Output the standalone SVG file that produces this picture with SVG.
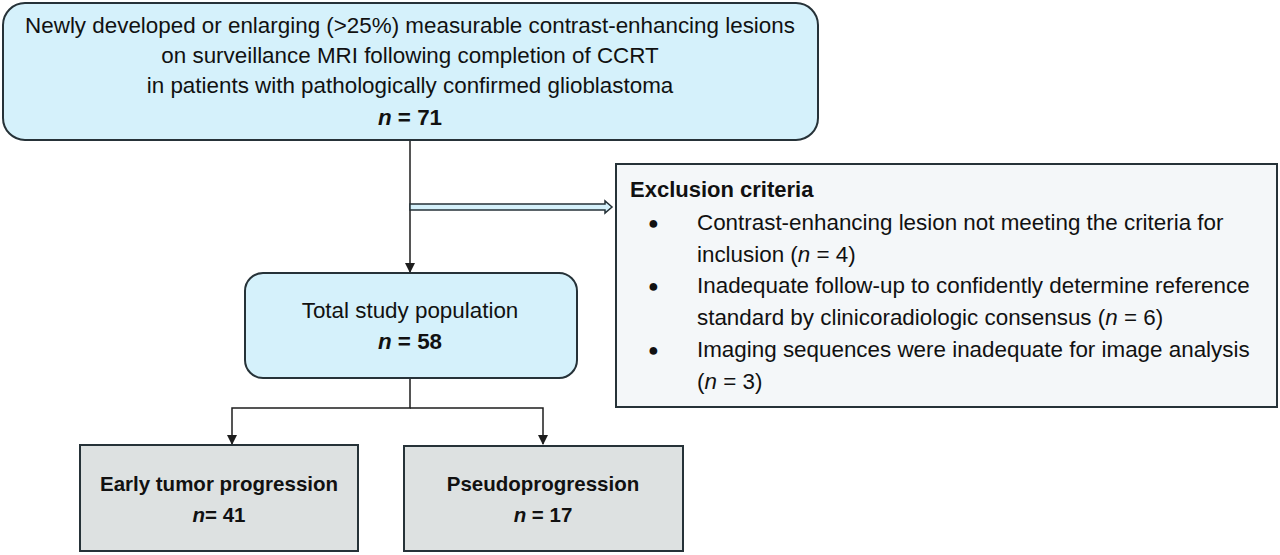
<svg xmlns="http://www.w3.org/2000/svg" width="1280" height="555" viewBox="0 0 1280 555">
<defs>
<style>
text{font-family:"Liberation Sans",Arial,sans-serif;fill:#111;}
.t{font-size:22.4px;text-anchor:middle;}
.b{font-weight:bold;}
.e{font-size:22.4px;}
.h{font-size:22px;font-weight:bold;}
.s{font-size:20.5px;text-anchor:middle;font-weight:bold;}
.dot{font-size:18px;}
.blue{fill:#d5f1fb;stroke:#263238;stroke-width:2;}
.grey{fill:#dde1e1;stroke:#263238;stroke-width:2;}
.excl{fill:#f4f7f9;stroke:#263238;stroke-width:2;}
.ln{fill:none;stroke:#1e1e1e;stroke-width:1.5;}
</style>
<marker id="ah" markerWidth="10" markerHeight="10" refX="9" refY="5" orient="auto" markerUnits="userSpaceOnUse">
<path d="M0,0 L10,5 L0,10 z" fill="#1e1e1e"/>
</marker>
</defs>
<rect width="1280" height="555" fill="#fff"/>
<g id="connectors">
<line class="ln" x1="410" y1="141" x2="410" y2="272" marker-end="url(#ah)"/>
<polygon points="410,204 605,204 605,201 612,207 605,213 605,210 410,210" fill="#d5f1fb" stroke="#263238" stroke-width="1.5"/>
<polyline class="ln" points="410,379 410,408 232,408 232,444" marker-end="url(#ah)"/>
<polyline class="ln" points="410,408 543,408 543,444" marker-end="url(#ah)"/>
</g>
<g id="top">
<rect class="blue" x="3" y="3" width="815" height="137" rx="22"/>
<text class="t" x="410" y="33">Newly developed or enlarging (&gt;25%) measurable contrast-enhancing lesions</text>
<text class="t" x="410" y="63">on surveillance MRI following completion of CCRT</text>
<text class="t" x="410" y="93">in patients with pathologically confirmed glioblastoma</text>
<text class="t b" x="410" y="125"><tspan font-style="italic">n</tspan> = 71</text>
</g>
<g id="exclusion">
<rect class="excl" x="616" y="164" width="661" height="243"/>
<text class="h" x="630" y="197">Exclusion criteria</text>
<text class="dot" x="648" y="229">●</text>
<text class="e" x="697" y="230">Contrast-enhancing lesion not meeting the criteria for</text>
<text class="e" x="697" y="262">inclusion (<tspan font-style="italic">n</tspan> = 4)</text>
<text class="dot" x="648" y="292">●</text>
<text class="e" x="697" y="293">Inadequate follow-up to confidently determine reference</text>
<text class="e" x="697" y="325">standard by clinicoradiologic consensus (<tspan font-style="italic">n</tspan> = 6)</text>
<text class="dot" x="648" y="356">●</text>
<text class="e" x="697" y="357">Imaging sequences were inadequate for image analysis</text>
<text class="e" x="697" y="389">(<tspan font-style="italic">n</tspan> = 3)</text>
</g>
<g id="total">
<rect class="blue" x="245" y="273" width="332" height="105" rx="18"/>
<text class="t" x="410" y="318">Total study population</text>
<text class="t b" x="410" y="349"><tspan font-style="italic">n</tspan> = 58</text>
</g>
<g id="early">
<rect class="grey" x="80" y="445" width="278" height="106"/>
<text class="s" x="219" y="491">Early tumor progression</text>
<text class="s" x="219" y="522"><tspan font-style="italic">n</tspan>= 41</text>
</g>
<g id="pseudo">
<rect class="grey" x="404" y="446" width="279" height="105"/>
<text class="s" x="543" y="491">Pseudoprogression</text>
<text class="s" x="543" y="522"><tspan font-style="italic">n</tspan> = 17</text>
</g>
</svg>
